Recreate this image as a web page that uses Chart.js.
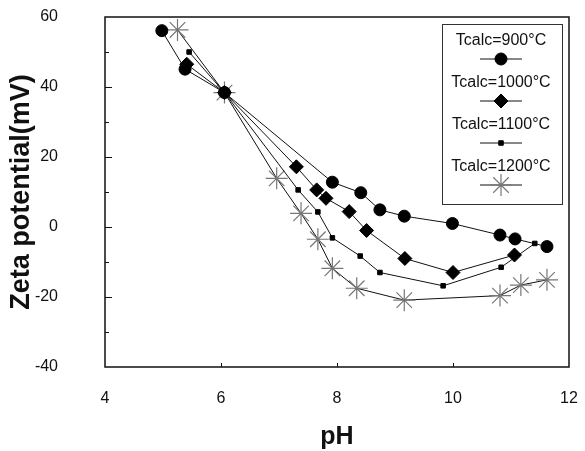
<!DOCTYPE html>
<html>
<head>
<meta charset="utf-8">
<script src="https://cdn.jsdelivr.net/npm/chart.js@4/dist/chart.umd.min.js"></script>
<style>
  html, body { margin: 0; padding: 0; background: #fff; }
  #wrap { width: 585px; height: 451px; }
</style>
</head>
<body>
<div id="wrap"><canvas id="chart" width="585" height="451"></canvas></div>
<script>
// data
const seriesLabels = ['Tcalc=900°C', 'Tcalc=1000°C', 'Tcalc=1100°C', 'Tcalc=1200°C'];

const ph900 = [4.98, 5.38, 6.06, 7.92, 8.41, 8.74, 9.16, 9.99, 10.81, 11.07, 11.62];
const zeta900 = [56.1, 45.1, 38.4, 12.8, 9.8, 4.9, 3.1, 1.0, -2.3, -3.4, -5.6];

const ph1000 = [5.41, 6.06, 7.30, 7.65, 7.81, 8.21, 8.51, 9.17, 10.0, 11.06];
const zeta1000 = [46.5, 38.4, 17.2, 10.6, 8.2, 4.4, -1.0, -9.0, -13.0, -8.0];

const ph1100 = [5.45, 6.06, 7.33, 7.67, 7.92, 8.40, 8.74, 9.83, 10.83, 11.41];
const zeta1100 = [50.0, 38.4, 10.6, 4.3, -3.1, -8.3, -13.0, -16.8, -11.5, -4.7];

const ph1200 = [5.25, 6.06, 6.96, 7.38, 7.67, 7.92, 8.34, 9.16, 10.81, 11.17, 11.62];
const zeta1200 = [56.3, 38.4, 13.9, 3.9, -3.5, -11.8, -17.5, -20.9, -19.6, -16.6, -15.1];

const xTicks = [4, 6, 8, 10, 12];
const yTicks = [-40, -20, 0, 20, 40, 60];

function toPoints(xs, ys) {
    return xs.map((x, i) => ({ x: x, y: ys[i] }));
}

const FONT = '"Liberation Sans", Arial, Helvetica, sans-serif';

// box around plot, inner tick marks, legend box
const framePlugin = {
    id: 'frame',
    afterDatasetsDraw(chart) {
        const ctx = chart.ctx;
        const area = chart.chartArea;
        const xs = chart.scales.x;
        const ys = chart.scales.y;
        ctx.save();
        ctx.strokeStyle = '#111';
        ctx.lineWidth = 1.5;
        ctx.strokeRect(area.left, area.top, area.right - area.left, area.bottom - area.top);

        ctx.lineWidth = 1;
        for (let v = ys.min + 10; v < ys.max; v += 10) {
            const y = Math.round(ys.getPixelForValue(v)) + 0.5;
            const len = (v % 20 === 0) ? 7 : 4;
            ctx.beginPath();
            ctx.moveTo(area.left, y);
            ctx.lineTo(area.left + len, y);
            ctx.stroke();
        }
        for (let v = xs.min + 2; v < xs.max; v += 2) {
            const x = Math.round(xs.getPixelForValue(v)) + 0.5;
            ctx.beginPath();
            ctx.moveTo(x, area.bottom);
            ctx.lineTo(x, area.bottom - 4);
            ctx.stroke();
        }

        // legend
        const bx = 442, by = 24, bw = 120, bh = 180;
        ctx.fillStyle = '#fff';
        ctx.fillRect(bx, by, bw, bh);
        ctx.strokeStyle = '#333';
        ctx.strokeRect(bx + 0.5, by + 0.5, bw, bh);
        const cx = bx + bw / 2 - 1;
        ctx.font = '16px ' + FONT;
        ctx.textAlign = 'center';
        ctx.textBaseline = 'middle';
        chart.data.datasets.forEach((ds, i) => {
            const ty = 41 + i * 42;
            const sy = ty + 18;
            ctx.fillStyle = '#111';
            ctx.fillText(ds.label, cx, ty);
            ctx.strokeStyle = '#111';
            ctx.lineWidth = 1;
            ctx.beginPath();
            ctx.moveTo(cx - 21, sy);
            ctx.lineTo(cx + 21, sy);
            ctx.stroke();
            ctx.fillStyle = ds.pointBackgroundColor;
            ctx.strokeStyle = ds.pointBorderColor;
            ctx.lineWidth = ds.pointBorderWidth;
            Chart.helpers.drawPoint(ctx, {
                pointStyle: ds.pointStyle,
                radius: ds.pointRadius,
                rotation: 0,
                borderWidth: ds.pointBorderWidth
            }, cx, sy);
        });
        ctx.restore();
    }
};

function makeSet(label, xs, ys, style, radius, fill, border, bw) {
    return {
        label: label,
        data: toPoints(xs, ys),
        showLine: true,
        borderColor: '#111',
        borderWidth: 1,
        pointStyle: style,
        pointRadius: radius,
        pointHoverRadius: radius,
        pointBackgroundColor: fill,
        pointBorderColor: border,
        pointBorderWidth: bw
    };
}

new Chart(document.getElementById('chart'), {
    type: 'scatter',
    data: {
        datasets: [
            makeSet(seriesLabels[0], ph900, zeta900, 'circle', 6, '#000', '#000', 1),
            makeSet(seriesLabels[1], ph1000, zeta1000, 'rectRot', 7, '#000', '#000', 1),
            makeSet(seriesLabels[2], ph1100, zeta1100, 'rect', 3.2, '#000', '#000', 1),
            makeSet(seriesLabels[3], ph1200, zeta1200, 'star', 11, '#777', '#777', 1.2)
        ]
    },
    options: {
        responsive: false,
        animation: false,
        layout: { padding: { top: 17, right: 16, left: 0, bottom: 0 } },
        plugins: {
            legend: { display: false },
            tooltip: { enabled: false }
        },
        scales: {
            x: {
                type: 'linear',
                min: 4,
                max: 12,
                afterFit(scale) {
                    scale.height = 84;
                    scale.paddingLeft = 0;
                    scale.paddingRight = 0;
                },
                afterBuildTicks(scale) { scale.ticks = xTicks.map(v => ({ value: v })); },
                grid: { display: false, drawTicks: false },
                border: { display: false },
                ticks: {
                    padding: 22,
                    color: '#111',
                    font: { family: FONT, size: 16 }
                },
                title: {
                    display: true,
                    text: 'pH',
                    color: '#111',
                    padding: { top: 0, bottom: 1 },
                    font: { family: FONT, size: 25, weight: 'bold', lineHeight: 1 }
                }
            },
            y: {
                type: 'linear',
                min: -40,
                max: 60,
                afterFit(scale) {
                    scale.width = 105;
                    scale.paddingTop = 0;
                    scale.paddingBottom = 0;
                },
                afterBuildTicks(scale) { scale.ticks = yTicks.map(v => ({ value: v })); },
                grid: { display: false, drawTicks: false },
                border: { display: false },
                ticks: {
                    padding: 47,
                    color: '#111',
                    font: { family: FONT, size: 16 }
                },
                title: {
                    display: true,
                    text: 'Zeta potential(mV)',
                    color: '#111',
                    padding: { top: 8, bottom: 0 },
                    font: { family: FONT, size: 27, weight: 'bold', lineHeight: 1 }
                }
            }
        }
    },
    plugins: [framePlugin]
});
</script>
</body>
</html>
